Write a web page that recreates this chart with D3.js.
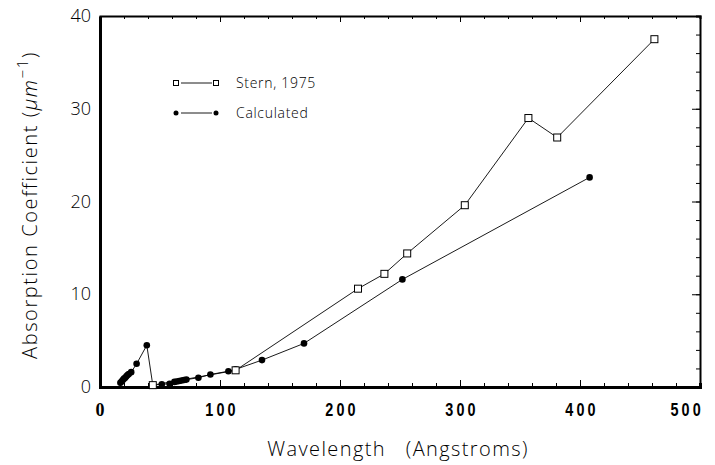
<!DOCTYPE html>
<html>
<head>
<meta charset="utf-8">
<script src="https://cdn.jsdelivr.net/npm/d3@7"></script>
<style>
  body { margin: 0; background: #fff; }
  svg { display: block; }
</style>
</head>
<body>
<script>
var width = 715
var height = 465

// Stern, 1975 (open squares)
var sternX = [44, 113, 215, 237, 256, 304, 357, 381, 462]
var sternY = [0.2, 1.8, 10.6, 12.2, 14.4, 19.6, 29.0, 26.9, 37.5]

// Calculated (filled dots)
var calcX = [17, 18, 19, 20, 21, 22, 23, 24, 26, 30.5, 39, 44, 51.5, 58, 62, 64, 66, 68, 70, 72, 82, 92, 107, 113, 135, 170, 252, 408]
var calcY = [0.45, 0.6, 0.75, 0.9, 1.0, 1.15, 1.3, 1.4, 1.6, 2.5, 4.5, 0.2, 0.3, 0.35, 0.55, 0.6, 0.65, 0.7, 0.75, 0.8, 1.0, 1.35, 1.7, 1.9, 2.9, 4.7, 11.6, 22.6]

var xTicks = [0, 100, 200, 300, 400, 500]
var yTicks = [0, 10, 20, 30, 40]

var legendLabels = ['Stern, 1975', 'Calculated']

var margin = { left: 100, right: 15, top: 16, bottom: 78 }
var lightFont = "'Open Sans', 'Liberation Sans', sans-serif"

var x = d3.scaleLinear().domain([0, 500]).range([margin.left, width - margin.right])
var y = d3.scaleLinear().domain([0, 40]).range([height - margin.bottom, margin.top])

var svg = d3.select('body').append('svg')
    .attr('width', width)
    .attr('height', height)

var frame = svg.append('g')

// top axis, ticks pointing down
frame.append('g')
    .attr('transform', 'translate(0,' + y(40) + ')')
    .call(d3.axisBottom(x).tickValues(d3.range(0, 501, 20)).tickSize(3).tickFormat(''))
    .call(function (g) { g.select('.domain').attr('stroke-width', 2) })
frame.append('g')
    .attr('transform', 'translate(0,' + y(40) + ')')
    .call(d3.axisBottom(x).tickValues(xTicks).tickSize(6).tickFormat(''))
    .call(function (g) { g.select('.domain').remove() })

// right axis, ticks pointing left
frame.append('g')
    .attr('transform', 'translate(' + x(500) + ',0)')
    .call(d3.axisLeft(y).tickValues(d3.range(0, 41, 2)).tickSize(4).tickFormat(''))
    .call(function (g) { g.select('.domain').attr('stroke-width', 2) })
frame.append('g')
    .attr('transform', 'translate(' + x(500) + ',0)')
    .call(d3.axisLeft(y).tickValues(yTicks).tickSize(8).tickFormat(''))
    .call(function (g) { g.select('.domain').remove() })

// bottom axis, ticks pointing up
frame.append('g')
    .attr('transform', 'translate(0,' + y(0) + ')')
    .call(d3.axisTop(x).tickValues(d3.range(0, 501, 20)).tickSize(4).tickFormat(''))
    .call(function (g) { g.select('.domain').attr('stroke-width', 3) })
frame.append('g')
    .attr('transform', 'translate(0,' + y(0) + ')')
    .call(d3.axisTop(x).tickValues(xTicks).tickSize(7).tickFormat(''))
    .call(function (g) { g.select('.domain').remove() })

// left axis, no ticks
frame.append('g')
    .attr('transform', 'translate(' + x(0) + ',0)')
    .call(d3.axisLeft(y).tickValues([]).tickSizeOuter(0))
    .call(function (g) { g.select('.domain').attr('stroke-width', 3) })

// x tick labels: narrow bold, spaced digits; the 0 is a serif glyph
svg.append('g').selectAll('text')
    .data(xTicks)
    .enter()
    .append('text')
    .attr('transform', function (d) {
        var tx = d === 500 ? 704 : x(d) + (d === 0 ? 0 : 2)
        return 'translate(' + tx + ',416) scale(' + (d === 0 ? 1 : 0.8) + ',1)'
    })
    .attr('text-anchor', function (d) { return d === 500 ? 'end' : 'middle' })
    .attr('font-family', function (d) { return d === 0 ? 'Liberation Serif' : 'Liberation Sans' })
    .attr('font-weight', 'bold')
    .attr('font-size', 18)
    .attr('letter-spacing', function (d) { return d === 0 ? 0 : 4 })
    .text(function (d) { return d })

svg.append('g').selectAll('text')
    .data(yTicks)
    .enter()
    .append('text')
    .attr('x', 91)
    .attr('y', function (d) { return y(d) + 6 })
    .attr('text-anchor', 'end')
    .attr('font-family', lightFont)
    .attr('font-weight', 300)
    .attr('font-size', 18)
    .attr('fill', '#000')
    .text(function (d) { return d })

// axis titles
svg.append('text')
    .attr('x', 398)
    .attr('y', 456)
    .attr('text-anchor', 'middle')
    .attr('font-family', lightFont)
    .attr('font-weight', 300)
    .attr('font-size', 20)
    .attr('letter-spacing', 1.4)
    .attr('fill', '#000')
    .attr('xml:space', 'preserve')
    .text('Wavelength   (Angstroms)')

var yTitle = svg.append('text')
    .attr('transform', 'translate(37,205) rotate(-90)')
    .attr('text-anchor', 'middle')
    .attr('font-family', lightFont)
    .attr('font-weight', 300)
    .attr('font-size', 20)
    .attr('letter-spacing', 1.6)
    .attr('fill', '#000')
yTitle.append('tspan').text('Absorption Coefficient (')
yTitle.append('tspan').attr('font-style', 'italic').text('μm')
yTitle.append('tspan').attr('dy', -9).attr('font-size', 15).text('−1')
yTitle.append('tspan').attr('dy', 9).text(')')

// series
var line = d3.line()
    .x(function (d) { return x(d[0]) })
    .y(function (d) { return y(d[1]) })

var stern = d3.zip(sternX, sternY)
var calc = d3.zip(calcX, calcY)

svg.append('path')
    .datum(calc)
    .attr('d', line)
    .attr('fill', 'none')
    .attr('stroke', '#000')
    .attr('stroke-width', 0.9)

svg.append('path')
    .datum(stern)
    .attr('d', line)
    .attr('fill', 'none')
    .attr('stroke', '#000')
    .attr('stroke-width', 0.9)

svg.append('g').selectAll('circle')
    .data(calc)
    .enter()
    .append('circle')
    .attr('cx', function (d) { return x(d[0]) })
    .attr('cy', function (d) { return y(d[1]) })
    .attr('r', 3.3)
    .attr('fill', '#000')

svg.append('g').selectAll('rect')
    .data(stern)
    .enter()
    .append('rect')
    .attr('x', function (d) { return x(d[0]) - 3.5 })
    .attr('y', function (d) { return y(d[1]) - 3.5 })
    .attr('width', 7)
    .attr('height', 7)
    .attr('fill', '#fff')
    .attr('stroke', '#000')
    .attr('stroke-width', 1)

// legend
var legend = svg.append('g')
legendLabels.forEach(function (label, i) {
    var ly = 83 + i * 30
    legend.append('line')
        .attr('x1', 181).attr('x2', 212)
        .attr('y1', ly).attr('y2', ly)
        .attr('stroke', '#000')
        .attr('stroke-width', 0.9)
    ;[176, 216].forEach(function (lx) {
        if (i === 0) {
            legend.append('rect')
                .attr('x', lx - 2.5).attr('y', ly - 2.5)
                .attr('width', 5).attr('height', 5)
                .attr('fill', '#fff').attr('stroke', '#000').attr('stroke-width', 1)
        } else {
            legend.append('circle')
                .attr('cx', lx).attr('cy', ly).attr('r', 2.5)
                .attr('fill', '#000')
        }
    })
    legend.append('text')
        .attr('x', 236)
        .attr('y', ly + 5)
        .attr('font-family', lightFont)
        .attr('font-weight', 300)
        .attr('font-size', 14)
        .attr('letter-spacing', 0.7)
        .attr('fill', '#000')
        .text(label)
})
</script>
</body>
</html>
